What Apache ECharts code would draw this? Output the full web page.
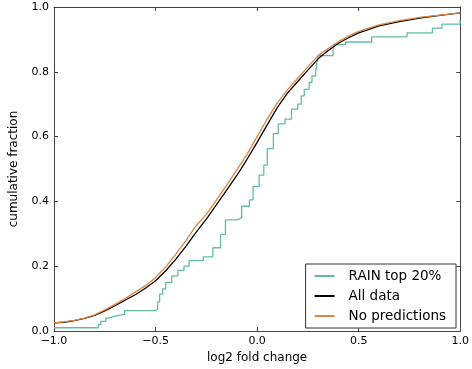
<!DOCTYPE html>
<html>
<head>
<meta charset="utf-8">
<script src="https://cdn.jsdelivr.net/npm/echarts@6/dist/echarts.min.js"></script>
<style>
  html, body { margin: 0; padding: 0; background: #fff; }
  #chart { width: 472px; height: 369px; }
</style>
</head>
<body>
<div id="chart"></div>
<script>
// x positions (log2 fold change) for the smooth curves
var curveX = [-1.0, -0.95, -0.9, -0.85, -0.8, -0.75, -0.7, -0.65, -0.6, -0.55, -0.5, -0.45, -0.4, -0.35,
  -0.3, -0.25, -0.2, -0.15, -0.1, -0.05, 0.0, 0.05, 0.1, 0.15, 0.2, 0.25, 0.3, 0.35, 0.4, 0.45,
  0.5, 0.6, 0.7, 0.8, 0.9, 1.0];
var noPredY = [0.025, 0.028, 0.033, 0.04, 0.05, 0.065, 0.082, 0.1, 0.12, 0.14, 0.165, 0.198, 0.237, 0.28,
  0.325, 0.36, 0.405, 0.45, 0.497, 0.545, 0.6, 0.655, 0.705, 0.745, 0.78, 0.815, 0.85, 0.872, 0.893, 0.91,
  0.925, 0.945, 0.958, 0.968, 0.975, 0.982];
var allDataY = [0.025, 0.027, 0.032, 0.039, 0.048, 0.062, 0.078, 0.095, 0.112, 0.132, 0.155, 0.186, 0.222, 0.262,
  0.305, 0.345, 0.39, 0.435, 0.48, 0.53, 0.582, 0.637, 0.69, 0.735, 0.77, 0.805, 0.84, 0.866, 0.888, 0.905,
  0.92, 0.942, 0.955, 0.966, 0.974, 0.982];

// RAIN top 20%: step positions and cumulative fraction after each step
var rainX = [-1.0, -0.782, -0.77, -0.745, -0.731, -0.70, -0.653, -0.502, -0.49, -0.48, -0.465, -0.45, -0.42,
  -0.39, -0.36, -0.335, -0.265, -0.218, -0.18, -0.156, -0.1, -0.076, -0.038, -0.02, 0.01, 0.033, 0.05,
  0.08, 0.104, 0.137, 0.169, 0.2, 0.217, 0.232, 0.256, 0.27, 0.288, 0.294, 0.303, 0.374, 0.38, 0.436,
  0.564, 0.738, 0.863, 0.91, 0.999];
var rainY = [0.01, 0.02, 0.03, 0.04, 0.046, 0.051, 0.063, 0.068, 0.09, 0.114, 0.13, 0.15, 0.17,
  0.187, 0.2, 0.217, 0.229, 0.257, 0.298, 0.343, 0.349, 0.385, 0.405, 0.446, 0.481, 0.512, 0.563,
  0.609, 0.639, 0.654, 0.685, 0.7, 0.726, 0.746, 0.767, 0.787, 0.8, 0.829, 0.85, 0.876, 0.884, 0.892,
  0.908, 0.92, 0.935, 0.947, 0.96];

function pairs(xs, ys) {
  return xs.map(function (x, i) { return [x, ys[i]]; });
}
function fmt(v) {
  return v.toFixed(1).replace('-', '\u2212');
}

var font = 'DejaVu Sans';
var frame = { show: true, onZero: false, lineStyle: { color: '#444', width: 1 } };
var tick = { show: true, inside: true, length: 4, lineStyle: { color: '#444' } };

var chart = echarts.init(document.getElementById('chart'));
chart.setOption({
  animation: false,
  grid: { left: 40, right: 10, top: 7, bottom: 35 },
  legend: {
    orient: 'vertical',
    right: 16,
    bottom: 41,
    padding: [4, 10, 4, 9],
    itemGap: 4,
    itemWidth: 20,
    itemHeight: 2,
    icon: 'rect',
    borderColor: '#333',
    borderWidth: 1,
    backgroundColor: '#fff',
    textStyle: { fontFamily: font, fontSize: 13.5, lineHeight: 16, color: '#000', padding: [0, 0, 0, 9] },
    data: ['RAIN top 20%', 'All data', 'No predictions']
  },
  xAxis: [{
    type: 'value', min: -1, max: 1, interval: 0.5,
    name: 'log2 fold change', nameLocation: 'middle', nameGap: 21,
    nameTextStyle: { fontFamily: font, fontSize: 12, color: '#000' },
    axisLine: frame, axisTick: tick, splitLine: { show: false },
    axisLabel: { fontFamily: font, fontSize: 11, color: '#000', margin: 5, formatter: fmt }
  }, {
    type: 'value', position: 'top', min: -1, max: 1, interval: 0.5,
    axisLine: frame, axisTick: tick, splitLine: { show: false }, axisLabel: { show: false }
  }],
  yAxis: [{
    type: 'value', min: 0, max: 1, interval: 0.2,
    name: 'cumulative fraction', nameLocation: 'middle', nameGap: 34,
    nameTextStyle: { fontFamily: font, fontSize: 12, color: '#000' },
    axisLine: frame, axisTick: tick, splitLine: { show: false },
    axisLabel: { fontFamily: font, fontSize: 11, color: '#000', margin: 5, formatter: fmt }
  }, {
    type: 'value', position: 'right', min: 0, max: 1, interval: 0.2,
    axisLine: frame, axisTick: tick, splitLine: { show: false }, axisLabel: { show: false }
  }],
  series: [{
    name: 'RAIN top 20%', type: 'line', step: 'end', showSymbol: false, symbol: 'none',
    data: pairs(rainX, rainY),
    lineStyle: { color: '#62bd9f', width: 1.3 }, itemStyle: { color: '#62bd9f' }
  }, {
    name: 'All data', type: 'line', showSymbol: false, symbol: 'none',
    data: pairs(curveX, allDataY),
    lineStyle: { color: '#000', width: 1.3 }, itemStyle: { color: '#000' }
  }, {
    name: 'No predictions', type: 'line', showSymbol: false, symbol: 'none',
    data: pairs(curveX, noPredY),
    lineStyle: { color: '#dc873f', width: 1.3 }, itemStyle: { color: '#dc873f' }
  }]
});
</script>
</body>
</html>
